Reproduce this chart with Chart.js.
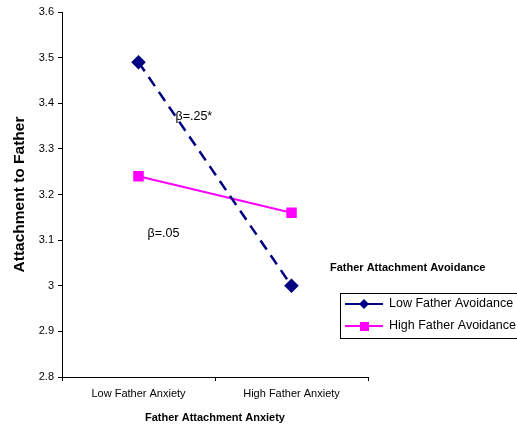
<!DOCTYPE html>
<html>
<head>
<meta charset="utf-8">
<script src="https://cdn.jsdelivr.net/npm/chart.js@4"></script>
<style>
  html, body { margin: 0; padding: 0; background: #fff; }
  #wrap { width: 517px; height: 429px; }
</style>
</head>
<body>
<div id="wrap"><canvas id="chart" width="517" height="429"></canvas></div>
<script>
// chart data
const categories = ['Low Father Anxiety', 'High Father Anxiety'];
const lowAvoidance = [3.49, 3.00];
const highAvoidance = [3.24, 3.16];
const seriesNames = ['Low Father Avoidance', 'High Father Avoidance'];
const yTicks = [2.8, 2.9, 3.0, 3.1, 3.2, 3.3, 3.4, 3.5, 3.6];
const notes = [
  { text: 'β=.25*', cat: 0, y: 3.37, dx: 37 },
  { text: 'β=.05', cat: 0, y: 3.115, dx: 9 }
];

const FONT = '"Liberation Sans", Arial, sans-serif';

// legend box + title + beta labels, drawn on the canvas
const extras = {
  id: 'extras',
  afterDraw(chart) {
    const ctx = chart.ctx;
    const x = chart.scales.x, y = chart.scales.y;
    ctx.save();
    ctx.fillStyle = '#000';
    ctx.font = '12.5px ' + FONT;
    ctx.textBaseline = 'middle';
    notes.forEach(n => {
      ctx.fillText(n.text, x.getPixelForValue(n.cat) + n.dx, y.getPixelForValue(n.y));
    });

    ctx.font = 'bold 11px ' + FONT;
    ctx.fillText('Father Attachment Avoidance', 330, 268);

    ctx.strokeStyle = '#000';
    ctx.lineWidth = 1;
    ctx.strokeRect(340.5, 293.5, 180, 45);

    const styles = chart.data.datasets;
    [304, 326].forEach((ly, i) => {
      const ds = styles[i];
      ctx.strokeStyle = ds.borderColor;
      ctx.lineWidth = 2;
      ctx.setLineDash([]);
      ctx.beginPath();
      ctx.moveTo(345, ly);
      ctx.lineTo(383, ly);
      ctx.stroke();
      ctx.fillStyle = ds.borderColor;
      if (i === 0) {
        ctx.beginPath();
        ctx.moveTo(364, ly - 5);
        ctx.lineTo(369, ly);
        ctx.lineTo(364, ly + 5);
        ctx.lineTo(359, ly);
        ctx.closePath();
        ctx.fill();
      } else {
        ctx.fillRect(360, ly - 4, 9, 9);
      }
      ctx.fillStyle = '#000';
      ctx.font = '12.5px ' + FONT;
      ctx.fillText(seriesNames[i], 389, ly);
    });
    ctx.restore();
  }
};

new Chart(document.getElementById('chart'), {
  type: 'line',
  data: {
    labels: categories,
    datasets: [
      {
        label: seriesNames[0],
        data: lowAvoidance,
        borderColor: '#000080',
        backgroundColor: '#000080',
        borderWidth: 2.5,
        borderDash: [11, 7],
        pointStyle: 'rectRot',
        pointRadius: 5.5,
        pointHoverRadius: 5.5,
        tension: 0
      },
      {
        label: seriesNames[1],
        data: highAvoidance,
        borderColor: '#FF00FF',
        backgroundColor: '#FF00FF',
        borderWidth: 2,
        pointStyle: 'rect',
        pointRadius: 6,
        pointHoverRadius: 6,
        tension: 0
      }
    ]
  },
  options: {
    responsive: false,
    animation: false,
    layout: { padding: { left: 0, right: 149, top: 12, bottom: 0 } },
    plugins: {
      legend: { display: false },
      tooltip: { enabled: false }
    },
    scales: {
      x: {
        offset: true,
        border: { color: '#000', width: 1 },
        grid: { drawOnChartArea: false, offset: true, tickLength: 4, color: '#000' },
        ticks: { color: '#000', font: { family: FONT, size: 11 }, maxRotation: 0, padding: 6 },
        title: { display: true, text: 'Father Attachment Anxiety', color: '#000',
                 font: { family: FONT, size: 11, weight: 'bold' }, padding: { top: 2 } },
        afterFit(s) { s.height = 52; }
      },
      y: {
        min: 2.8,
        max: 3.6,
        border: { color: '#000', width: 1 },
        grid: { drawOnChartArea: false, tickLength: 4, color: '#000' },
        afterBuildTicks(s) { s.ticks = yTicks.map(v => ({ value: v })); },
        ticks: {
          color: '#000',
          font: { family: FONT, size: 11 },
          padding: 4,
          callback: v => String(Number(v.toFixed(1)))
        },
        title: { display: true, text: 'Attachment to Father', color: '#000',
                 font: { family: FONT, size: 15.5, weight: 'bold' }, padding: { top: 10, bottom: 0 } },
        afterFit(s) { s.width = 62; }
      }
    }
  },
  plugins: [extras]
});
</script>
</body>
</html>
